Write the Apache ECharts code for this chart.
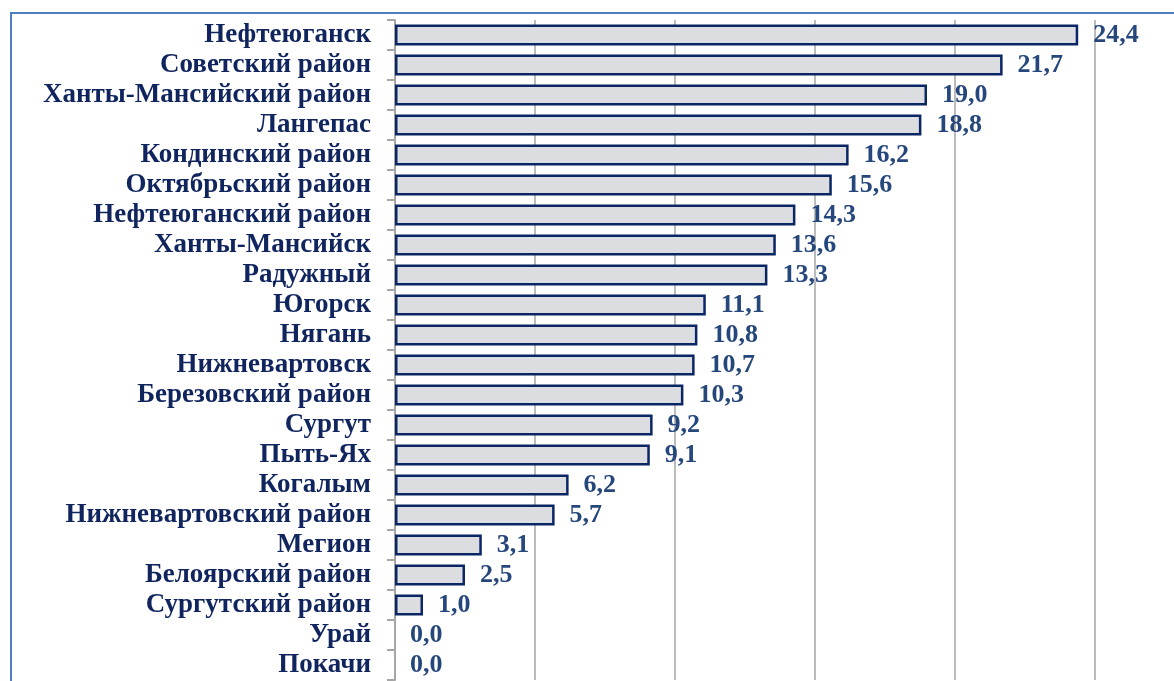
<!DOCTYPE html>
<html>
<head>
    <meta charset="utf-8">
    <script src="https://cdn.jsdelivr.net/npm/echarts@6/dist/echarts.min.js"></script>
    <style>
        html, body { margin: 0; padding: 0; background: #fff; }
    </style>
</head>
<body>

    <div id="main" style="width: 1174px;height:681px;"></div>

<script type="text/javascript">
var cities = ['Нефтеюганск', 'Советский район', 'Ханты-Мансийский район', 'Лангепас',
    'Кондинский район', 'Октябрьский район', 'Нефтеюганский район', 'Ханты-Мансийск',
    'Радужный', 'Югорск', 'Нягань', 'Нижневартовск', 'Березовский район', 'Сургут',
    'Пыть-Ях', 'Когалым', 'Нижневартовский район', 'Мегион', 'Белоярский район',
    'Сургутский район', 'Урай', 'Покачи'];
var values = [24.4, 21.7, 19.0, 18.8, 16.2, 15.6, 14.3, 13.6, 13.3, 11.1, 10.8, 10.7,
    10.3, 9.2, 9.1, 6.2, 5.7, 3.1, 2.5, 1.0, 0.0, 0.0];

var myChart = echarts.init(document.getElementById('main'));

myChart.setOption({
    backgroundColor: '#fff',
    animation: false,
    grid: {
        left: 395,
        right: 79,
        top: 20,
        bottom: 1
    },
    // рамка вокруг диаграммы (видна только слева и сверху)
    graphic: [{
        type: 'rect',
        shape: { x: 11, y: 13, width: 1300, height: 800 },
        style: { fill: null, stroke: '#4f7fbd', lineWidth: 2 },
        silent: true
    }],
    xAxis: {
        type: 'value',
        min: 0,
        max: 25,
        interval: 5,
        axisLine: { show: false },
        axisTick: { show: false },
        axisLabel: { show: false },
        splitLine: {
            show: true,
            lineStyle: { color: '#a6a6a6', width: 1.5 }
        }
    },
    yAxis: {
        type: 'category',
        inverse: true,
        data: cities,
        axisLine: { show: true, lineStyle: { color: '#a6a6a6', width: 2 } },
        axisTick: { show: true, interval: 0, length: 8, lineStyle: { color: '#a6a6a6', width: 2 } },
        axisLabel: {
            interval: 0,
            margin: 24,
            color: '#10245e',
            fontFamily: 'Liberation Serif',
            fontWeight: 'bold',
            fontSize: 27
        }
    },
    series: [{
        type: 'bar',
        // нулевые значения без рамки
        data: values.map(function (v) {
            return v === 0 ? { value: v, itemStyle: { borderWidth: 0 } } : v;
        }),
        barCategoryGap: '30%',
        itemStyle: {
            color: '#dcdde0',
            borderColor: '#0b2664',
            borderWidth: 2.5
        },
        label: {
            show: true,
            position: 'right',
            distance: 15,
            color: '#25477c',
            fontFamily: 'Liberation Serif',
            fontWeight: 'bold',
            fontSize: 26,
            formatter: function (p) {
                return p.value.toFixed(1).replace('.', ',');
            }
        }
    }]
});
</script>

</body>
</html>
